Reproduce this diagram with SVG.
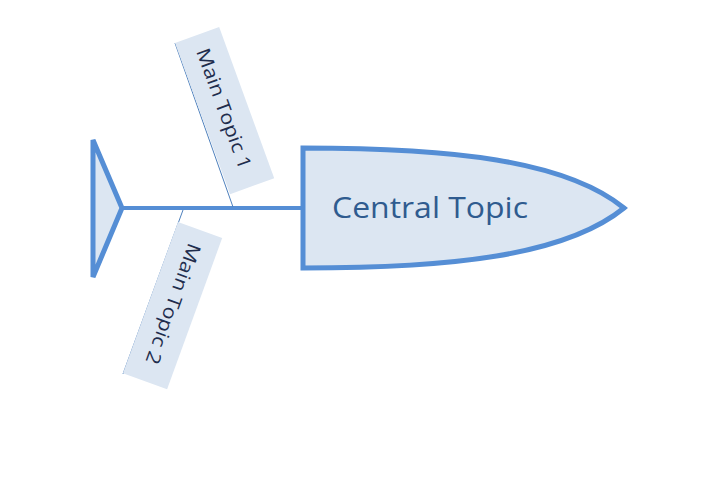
<svg xmlns="http://www.w3.org/2000/svg" width="702" height="488" viewBox="0 0 702 488">
<style>
.shape{fill:#dce6f2;stroke:#558ed5;stroke-width:5;stroke-linejoin:miter}
.spine{stroke:#558ed5;stroke-width:4;fill:none}
.thin{stroke:#4f81bd;stroke-width:1;fill:none}
.lbl{fill:#dce6f2}
.t1{font-family:"Open Sans","Noto Sans",sans-serif;font-size:19px;fill:#1f2d4d}
.ct{font-family:"Open Sans","Noto Sans",sans-serif;font-size:29px;fill:#2f5b8f}
</style>
<rect width="702" height="488" fill="#ffffff"/>
<g id="connectors">
<line class="spine" x1="121" y1="208" x2="304" y2="208"/>
<line class="thin" x1="175" y1="43" x2="233" y2="207"/>
<line class="thin" x1="183" y1="210" x2="123" y2="374"/>
</g>
<g id="tail">
<path class="shape" d="M93,140 L122,208 L93,277 Z"/>
</g>
<g id="central-topic">
<path class="shape" d="M303,148 C450,148 565,160 624,208 C565,256 450,268 303,268 Z"/>
<text class="ct" x="332" y="218" textLength="196" lengthAdjust="spacingAndGlyphs">Central Topic</text>
</g>
<g id="main-topic-1" transform="translate(175,43) rotate(70)">
<rect class="lbl" x="0" y="-47" width="161" height="47"/>
<text class="t1" x="15" y="-17" textLength="127" lengthAdjust="spacingAndGlyphs">Main Topic 1</text>
</g>
<g id="main-topic-2" transform="translate(178,222) rotate(110)">
<rect class="lbl" x="0" y="-47" width="161" height="47"/>
<text class="t1" x="15" y="-17" textLength="127" lengthAdjust="spacingAndGlyphs">Main Topic 2</text>
</g>
</svg>
